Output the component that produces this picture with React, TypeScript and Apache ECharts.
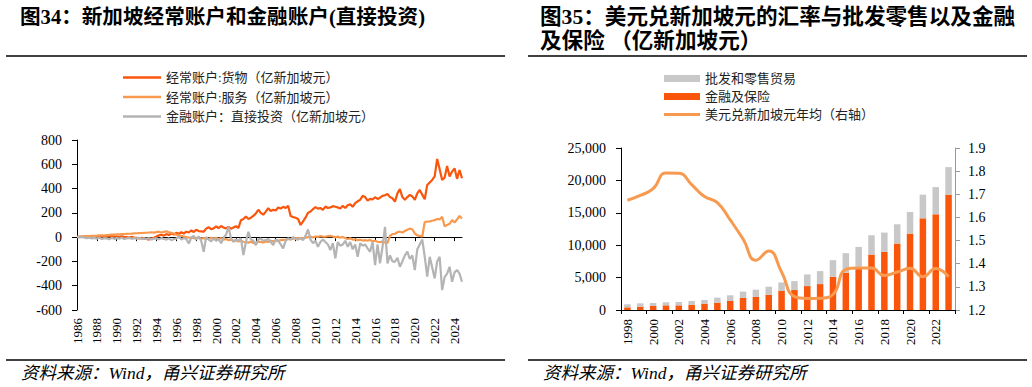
import React, { useEffect, useRef } from "react";
import * as echarts from "echarts";

// ---------- Left chart data (quarterly, 1986Q1 - 2024Q4) ----------
const leftYears: number[] = [
  1986, 1987, 1988, 1989, 1990, 1991, 1992, 1993, 1994, 1995, 1996, 1997, 1998,
  1999, 2000, 2001, 2002, 2003, 2004, 2005, 2006, 2007, 2008, 2009, 2010, 2011,
  2012, 2013, 2014, 2015, 2016, 2017, 2018, 2019, 2020, 2021, 2022, 2023, 2024,
];
const quarterNames = ["Q1", "Q2", "Q3", "Q4"];

const goods: number[] = [
  2, 3, 4, 5, 5, 6, 4, 6, 7, 5, 8, 6, 8, 6, 9, 7, 5, 3, 6, 2, 0, -4, 2, -3,
  -6, -10, -5, -12, -15, -20, -10, -5, 5, 15, 20, 12, 25, 18, 30, 22,
  35, 28, 40, 30, 45, 38, 55, 42, 60, 50, 48, 45, 70, 82, 65, 72,
  88, 75, 92, 80, 72, 85, 70, 80, 90, 75, 140, 150, 170, 150, 160, 175,
  195, 225, 200, 185, 210, 238, 215, 225, 220, 245, 235, 250, 240, 258, 175, 165,
  160, 150, 100, 130, 160, 200, 211, 230, 247, 235, 240, 225, 252, 240, 245, 255,
  250, 245, 235, 258, 240, 262, 270, 250, 280, 295, 307, 340, 330, 300, 315, 310,
  329, 315, 325, 340, 345, 356, 330, 320, 293, 360, 395, 330, 307, 330, 348, 335,
  307, 360, 389, 350, 312, 430, 450, 471, 500, 644, 560, 471, 490, 586, 500, 540,
  567, 480, 553, 485,
];
const services: number[] = [
  2, 4, 5, 6, 8, 9, 10, 11, 12, 14, 15, 15, 17, 18, 20, 21, 22, 23, 25, 26,
  27, 28, 29, 31, 32, 33, 34, 35, 36, 38, 40, 37, 42, 45, 38, 44, 48, 40, 35, 30,
  20, 15, 10, 5, 0, -5, -3, -8, -10, -5, -12, -8, -10, -15, -5, -12,
  -5, -15, -8, -20, -15, -25, -20, -30, -28, -35, -30, -38, -40, -45, -38, -48,
  -45, -40, -38, -45, -35, -40, -30, -35, -28, -30, -25, -22, -20, -15, -18, -12,
  -10, -5, -12, -8, -5, 0, 5, -3, 5, 2, 8, 5, 3, 8, 10, 5,
  -2, 5, -5, 2, -8, -15, -10, -20, -18, -25, -22, -28, -25, -30, -22, -35,
  -30, -38, -42, -35, -45, -48, 10, 25, 28, 40, 45, 38, 50, 60, 70, 65,
  30, 15, 10, 5, 125, 128, 130, 135, 140, 150, 145, 168, 90, 100, 110, 140,
  120, 145, 175, 153,
];
const fdi: number[] = [
  0, -3, 2, -5, -8, -4, -10, -6, -12, -5, -15, -8, -10, -18, -6, -14,
  -8, -12, -5, -15, -10, -6, -14, -8, -12, -5, -16, -10, -14, -8, -20, -12,
  -10, -18, -8, -15, -20, -10, -25, -15, -12, 5, -20, -8, -15, -52, -5, 10,
  -20, 5, -30, -120, 0, -20, -35, -10, -30, -15, -50, -5, 20, 85, -10, -40,
  -20, -30, -10, -148, -40, 44, -20, -30, -66, -20, -11, -30, -25, -15, -40, -66,
  -20, -30, -60, -93, -30, -10, -20, 0, -15, -20, -5, -25, 10, 63, -20, -50,
  -30, -80, -40, -20, -40, -60, -107, -50, -175, -40, -70, -60, -30, -80, -40, -100,
  -60, -162, -50, -70, -60, -93, -120, -40, -230, -60, -216, -80, 85, -216, -150, -200,
  -203, -170, -244, -200, -150, -120, -180, -150, -271, -100, -60, -19,
  -162, -326, -162, -250, -340, -200, -162, -436, -330, -300, -244, -367,
  -290, -270, -300, -367,
];

const leftSeriesNames = [
  "经常账户:货物（亿新加坡元）",
  "经常账户:服务（亿新加坡元）",
  "金融账户：直接投资（亿新加坡元）",
];

// ---------- Right chart data (annual, 1998 - 2023) ----------
const rightYears: string[] = [
  "1998", "1999", "2000", "2001", "2002", "2003", "2004", "2005", "2006",
  "2007", "2008", "2009", "2010", "2011", "2012", "2013", "2014", "2015",
  "2016", "2017", "2018", "2019", "2020", "2021", "2022", "2023",
];
const finance: number[] = [
  410, 520, 620, 720, 720, 820, 980, 1130, 1390, 1860, 2010, 2370, 2930,
  3080, 3690, 4000, 5130, 5740, 6670, 8560, 8970, 10260, 11790, 14150, 14770, 17800,
];
const trade: number[] = [
  470, 510, 460, 470, 520, 570, 570, 780, 880, 980, 1130, 1230, 1320,
  1380, 1800, 2000, 2560, 3030, 3070, 2980, 2980, 2970, 3340, 3650, 4200, 4250,
];
const usdSgd: number[] = [
  1.674, 1.695, 1.724, 1.792, 1.791, 1.742, 1.69, 1.664, 1.589, 1.507, 1.415,
  1.455, 1.364, 1.258, 1.25, 1.251, 1.267, 1.375, 1.381, 1.381, 1.349, 1.364,
  1.38, 1.344, 1.379, 1.343,
];
const rightSeriesNames = ["批发和零售贸易", "金融及保险", "美元兑新加坡元年均（右轴）"];

const FONT = '"Liberation Serif", "Noto Sans CJK SC", serif';
const ORANGE = "#FA560B";
const LIGHT_ORANGE = "#F79A4F";
const GRAY_LINE = "#B4B4B4";
const GRAY_BAR = "#C8C8C8";

// legend line icons: thin bar centred in a padded box (padding via hairline sub-paths)
const LEFT_LINE_ICON =
  "path://M0,0L38,0L38,0.01L0,0.01Z M0,4.8L38,4.8L38,7.2L0,7.2Z M0,11.99L38,11.99L38,12L0,12Z";
const RIGHT_LINE_ICON =
  "path://M0,0L36,0L36,0.01L0,0.01Z M0,2L36,2L36,5L0,5Z M0,6.99L36,6.99L36,7L0,7Z";

export default function App() {
  const ref = useRef<HTMLDivElement>(null);

  useEffect(() => {
    if (!ref.current) return;
    const chart = echarts.init(ref.current, undefined, { renderer: "svg" });
    const quarters: string[] = [];
    leftYears.forEach((y) => quarterNames.forEach((q) => quarters.push(`${y}${q}`)));

    const axisLabelBase = { fontFamily: FONT, color: "#000" };

    const option: any = {
      animation: false,
      backgroundColor: "#fff",
      textStyle: { fontFamily: FONT },
      grid: [
        { left: 77, top: 140, width: 385, height: 170 },
        { left: 621, top: 148, width: 334, height: 162 },
      ],
      legend: [
        {
          orient: "vertical",
          left: 118,
          top: 66,
          itemWidth: 38,
          itemHeight: 12,
          itemGap: 6.5,
          data: leftSeriesNames.map((n) => ({ name: n, icon: LEFT_LINE_ICON })),
          textStyle: { fontSize: 13, color: "#222", fontFamily: FONT },
        },
        {
          orient: "vertical",
          left: 659,
          top: 67,
          itemWidth: 36,
          itemHeight: 7,
          itemGap: 5,
          data: [
            { name: rightSeriesNames[0], icon: "rect" },
            { name: rightSeriesNames[1], icon: "rect" },
            { name: rightSeriesNames[2], icon: RIGHT_LINE_ICON },
          ],
          textStyle: { fontSize: 13, color: "#222", fontFamily: FONT },
        },
      ],
      xAxis: [
        {
          gridIndex: 0,
          type: "category",
          data: quarters,
          boundaryGap: false,
          axisLine: { show: false, onZero: false },
          axisTick: { show: false },
          axisLabel: {
            ...axisLabelBase,
            interval: 7,
            rotate: 90,
            margin: 8,
            fontSize: 13,
            formatter: (v: string) => v.slice(0, 4),
          },
        },
        {
          gridIndex: 0,
          type: "category",
          data: quarters,
          boundaryGap: false,
          position: "bottom",
          axisLine: { show: true, onZero: true, lineStyle: { color: "#000", width: 1 } },
          axisTick: { show: true, interval: 7, length: 4, lineStyle: { color: "#000" } },
          axisLabel: { show: false },
        },
        {
          gridIndex: 1,
          type: "category",
          data: rightYears,
          boundaryGap: true,
          axisLine: { show: true, lineStyle: { color: "#000", width: 1 } },
          axisTick: { show: true, interval: 1, length: 4, lineStyle: { color: "#000" } },
          axisLabel: { ...axisLabelBase, interval: 1, rotate: 90, margin: 9, fontSize: 13 },
        },
      ],
      yAxis: [
        {
          gridIndex: 0,
          type: "value",
          min: -600,
          max: 800,
          interval: 200,
          axisLine: { show: true, lineStyle: { color: "#000" } },
          axisTick: { show: true, length: 5, lineStyle: { color: "#000" } },
          splitLine: { show: false },
          axisLabel: { ...axisLabelBase, margin: 15, fontSize: 14 },
        },
        {
          gridIndex: 1,
          type: "value",
          min: 0,
          max: 25000,
          interval: 5000,
          axisLine: { show: true, lineStyle: { color: "#000" } },
          axisTick: { show: true, length: 5, lineStyle: { color: "#000" } },
          splitLine: { show: false },
          axisLabel: {
            ...axisLabelBase,
            margin: 15,
            fontSize: 14,
            formatter: (v: number) => v.toLocaleString("en-US"),
          },
        },
        {
          gridIndex: 1,
          type: "value",
          position: "right",
          min: 1.2,
          max: 1.9,
          interval: 0.1,
          axisLine: { show: true, lineStyle: { color: "#999" } },
          axisTick: { show: true, length: 5, lineStyle: { color: "#999" } },
          splitLine: { show: false },
          axisLabel: {
            ...axisLabelBase,
            margin: 13,
            fontSize: 14,
            formatter: (v: number) => v.toFixed(1),
          },
        },
      ],
      series: [
        {
          name: leftSeriesNames[0],
          type: "line",
          xAxisIndex: 0,
          yAxisIndex: 0,
          data: goods,
          symbol: "none",
          color: ORANGE,
          lineStyle: { width: 2.2, color: ORANGE },
        },
        {
          name: leftSeriesNames[1],
          type: "line",
          xAxisIndex: 0,
          yAxisIndex: 0,
          data: services,
          symbol: "none",
          color: LIGHT_ORANGE,
          lineStyle: { width: 2.2, color: LIGHT_ORANGE },
        },
        {
          name: leftSeriesNames[2],
          type: "line",
          xAxisIndex: 0,
          yAxisIndex: 0,
          data: fdi,
          symbol: "none",
          color: GRAY_LINE,
          lineStyle: { width: 2.2, color: GRAY_LINE },
        },
        {
          name: rightSeriesNames[1],
          type: "bar",
          xAxisIndex: 2,
          yAxisIndex: 1,
          stack: "industry",
          data: finance,
          barWidth: 6.5,
          color: ORANGE,
          itemStyle: { color: ORANGE },
        },
        {
          name: rightSeriesNames[0],
          type: "bar",
          xAxisIndex: 2,
          yAxisIndex: 1,
          stack: "industry",
          data: trade,
          barWidth: 6.5,
          color: GRAY_BAR,
          itemStyle: { color: GRAY_BAR },
        },
        {
          name: rightSeriesNames[2],
          type: "line",
          xAxisIndex: 2,
          yAxisIndex: 2,
          data: usdSgd,
          smooth: true,
          symbol: "none",
          color: LIGHT_ORANGE,
          lineStyle: { width: 3, color: LIGHT_ORANGE },
        },
      ],
      graphic: [
        {
          type: "text",
          x: 20,
          y: 17,
          style: {
            text: "图34：新加坡经常账户和金融账户(直接投资)",
            font: `bold 20.6px ${FONT}`,
            fill: "#000",
            textVerticalAlign: "middle",
            verticalAlign: "middle",
          },
        },
        {
          type: "line",
          shape: { x1: 6, y1: 56, x2: 505, y2: 56 },
          style: { stroke: "#000", lineWidth: 1.5 },
        },
        {
          type: "line",
          shape: { x1: 6, y1: 360, x2: 505, y2: 360 },
          style: { stroke: "#000", lineWidth: 1.5 },
        },
        {
          type: "text",
          x: 21,
          y: 372.5,
          style: {
            text: "资料来源：Wind，甬兴证券研究所",
            font: `italic 17.5px ${FONT}`,
            fill: "#000",
            textVerticalAlign: "middle",
            verticalAlign: "middle",
          },
        },
        {
          type: "text",
          x: 540,
          y: 16.5,
          style: {
            text: "图35：美元兑新加坡元的汇率与批发零售以及金融",
            font: `bold 21.6px ${FONT}`,
            fill: "#000",
            textVerticalAlign: "middle",
            verticalAlign: "middle",
          },
        },
        {
          type: "text",
          x: 540,
          y: 40.5,
          style: {
            text: "及保险 （亿新加坡元）",
            font: `bold 21.6px ${FONT}`,
            fill: "#000",
            textVerticalAlign: "middle",
            verticalAlign: "middle",
          },
        },
        {
          type: "line",
          shape: { x1: 528, y1: 56, x2: 1027, y2: 56 },
          style: { stroke: "#000", lineWidth: 1.5 },
        },
        {
          type: "line",
          shape: { x1: 528, y1: 360, x2: 1027, y2: 360 },
          style: { stroke: "#000", lineWidth: 1.5 },
        },
        {
          type: "text",
          x: 543,
          y: 372.5,
          style: {
            text: "资料来源：Wind，甬兴证券研究所",
            font: `italic 17.5px ${FONT}`,
            fill: "#000",
            textVerticalAlign: "middle",
            verticalAlign: "middle",
          },
        },
      ],
    };

    chart.setOption(option);
    return () => chart.dispose();
  }, []);

  return (
    <div
      ref={ref}
      style={{ position: "fixed", left: 0, top: 0, width: 1032, height: 387, background: "#fff" }}
    />
  );
}
